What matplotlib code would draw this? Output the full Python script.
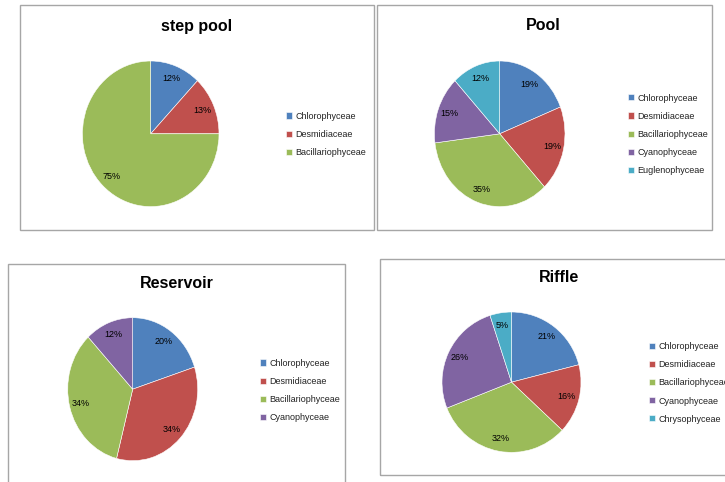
import matplotlib.pyplot as plt
from matplotlib.patches import Rectangle

# data
titles = ["step pool", "Pool", "Reservoir", "Riffle"]

step_pool_labels = ["Chlorophyceae", "Desmidiaceae", "Bacillariophyceae"]
step_pool_values = [12, 13, 75]

pool_labels = ["Chlorophyceae", "Desmidiaceae", "Bacillariophyceae", "Cyanophyceae", "Euglenophyceae"]
pool_values = [19, 19, 35, 15, 12]

reservoir_labels = ["Chlorophyceae", "Desmidiaceae", "Bacillariophyceae", "Cyanophyceae"]
reservoir_values = [20, 34, 34, 12]

riffle_labels = ["Chlorophyceae", "Desmidiaceae", "Bacillariophyceae", "Cyanophyceae", "Chrysophyceae"]
riffle_values = [21, 16, 32, 26, 5]

colors = ["#4F81BD", "#C0504D", "#9BBB59", "#8064A2", "#4BACC6"]

W, H = 725, 482
plt.rcParams['font.family'] = ['Liberation Sans', 'DejaVu Sans']
fig = plt.figure(figsize=(W / 100, H / 100), dpi=100)


def px(x0, y0, w, h):
    # pixel box (top-left origin) -> figure fraction
    return [x0 / W, 1 - (y0 + h) / H, w / W, h / H]


# panel layout in pixels: frame box, pie center + radii, title pos, legend pos
panels = [
    dict(box=(20, 5, 354, 225), c=(150.7, 133.8), r=(68.3, 72.8), t=(197, 26), leg=(286, 134.2),
         labels=step_pool_labels, values=step_pool_values),
    dict(box=(377, 5, 335, 225), c=(499.7, 133.8), r=(65.3, 72.8), t=(543, 26), leg=(628, 134.2),
         labels=pool_labels, values=pool_values),
    dict(box=(8, 264, 337, 230), c=(132.7, 389.2), r=(65.0, 71.5), t=(177, 283), leg=(260, 390.2),
         labels=reservoir_labels, values=reservoir_values),
    dict(box=(380, 259, 360, 216), c=(511.5, 382.2), r=(69.5, 70.2), t=(559, 278), leg=(649, 383),
         labels=riffle_labels, values=riffle_values),
]

for title, p in zip(titles, panels):
    bx, by, bw, bh = p['box']
    fig.patches.append(Rectangle((bx / W, 1 - (by + bh) / H), bw / W, bh / H,
                                 transform=fig.transFigure, fill=False,
                                 edgecolor="#A6A6A6", linewidth=1.0))
    cx, cy = p['c']
    rx, ry = p['r']
    ax = fig.add_axes(px(cx - rx, cy - ry, 2 * rx, 2 * ry))
    wedges, texts, autotexts = ax.pie(
        p['values'], colors=colors[:len(p['values'])], startangle=90, counterclock=False,
        autopct='%d%%', pctdistance=0.82, radius=1,
        wedgeprops=dict(edgecolor='white', linewidth=0.4),
        textprops=dict(fontsize=6.5, color='black'))
    ax.set_xlim(-1, 1)
    ax.set_ylim(-1, 1)
    ax.set_aspect('auto')
    ax.axis('off')

    fig.text(p['t'][0] / W, 1 - p['t'][1] / H, title, ha='center', va='center',
             fontsize=11.5, fontweight='bold', color='black')

    lx, ly = p['leg']
    fig.legend(wedges, p['labels'], loc='center left',
               bbox_to_anchor=(lx / W, 1 - ly / H), bbox_transform=fig.transFigure,
               frameon=False, fontsize=6.5, handlelength=0.65, handleheight=0.65,
               handletextpad=0.4, labelspacing=1.0, borderpad=0, borderaxespad=0,
               labelcolor='#222222')

fig.savefig("out.png", dpi=100)
